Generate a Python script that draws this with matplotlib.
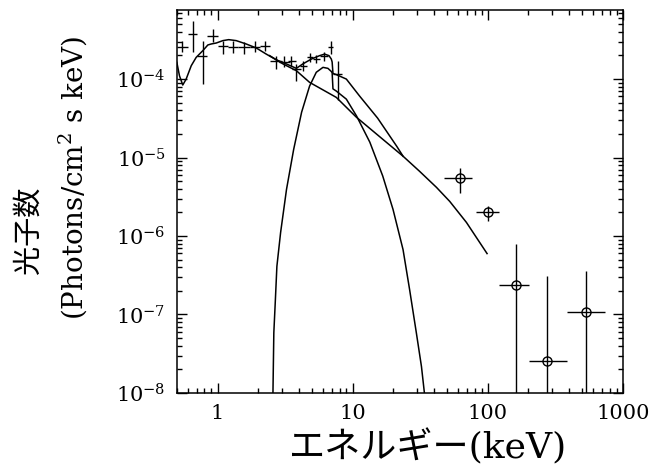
import numpy as np
import matplotlib
matplotlib.use('Agg')
import matplotlib.pyplot as plt
from matplotlib.ticker import LogLocator, NullFormatter

plt.rcParams['font.family'] = ['DejaVu Serif', 'Noto Sans CJK JP']
plt.rcParams['mathtext.fontset'] = 'dejavuserif'

# low energy data (crosses): energy, bin edges, flux and error bounds
cross_E = [0.548, 0.656, 0.778, 0.923, 1.095, 1.298, 1.557, 1.88, 2.23, 2.69,
           3.10, 3.51, 3.83, 4.28, 4.80, 5.38, 6.10, 6.87, 7.78]
cross_Elo = [0.505, 0.60, 0.71, 0.84, 1.0, 1.186, 1.406, 1.727, 2.047, 2.43,
             2.87, 3.30, 3.53, 4.05, 4.56, 5.10, 5.70, 6.53, 7.20]
cross_Ehi = [0.60, 0.71, 0.84, 1.0, 1.186, 1.406, 1.727, 2.047, 2.43, 2.98,
             3.41, 3.78, 4.12, 4.56, 5.10, 5.70, 6.53, 7.20, 8.30]
cross_F = [2.54e-4, 3.76e-4, 1.99e-4, 3.57e-4, 2.67e-4, 2.59e-4, 2.54e-4, 2.59e-4,
           2.67e-4, 1.71e-4, 1.66e-4, 1.71e-4, 1.34e-4, 1.48e-4, 1.89e-4, 1.80e-4,
           1.95e-4, 2.54e-4, 1.16e-4]
cross_Flo = [2.19e-4, 2.19e-4, 8.6e-5, 2.94e-4, 2.08e-4, 2.13e-4, 2.08e-4, 2.21e-4,
             2.28e-4, 1.34e-4, 1.42e-4, 1.47e-4, 9.5e-5, 1.27e-4, 1.65e-4, 1.58e-4,
             1.70e-4, 2.08e-4, 5.4e-5]
cross_Fhi = [3.09e-4, 5.56e-4, 3.09e-4, 4.35e-4, 3.09e-4, 3.09e-4, 2.97e-4, 3.06e-4,
             3.06e-4, 1.99e-4, 1.97e-4, 1.97e-4, 1.56e-4, 1.71e-4, 2.15e-4, 2.05e-4,
             2.21e-4, 3.09e-4, 1.70e-4]

# high energy data (circles)
circ_E = [62.1, 100.5, 161, 272, 529]
circ_Elo = [47.5, 81.5, 121, 202, 387]
circ_Ehi = [77, 121, 202, 387, 736]
circ_F = [5.55e-6, 2.01e-6, 2.4e-7, 2.59e-8, 1.07e-7]
circ_Flo = [3.56e-6, 1.55e-6, 1e-9, 1e-9, 1e-9]
circ_Fhi = [7.45e-6, 2.4e-6, 8.0e-7, 3.07e-7, 3.62e-7]

# model curves
tot_E = [0.50, 0.523, 0.553, 0.586, 0.639, 0.695, 0.778, 0.848, 0.898, 0.978,
         1.095, 1.21, 1.375, 1.63, 1.935, 2.295, 2.72, 3.23, 3.83, 4.28,
         4.95, 5.70, 6.20, 6.68, 6.95, 7.05, 7.15, 7.57, 8.98, 11.27,
         15.3, 21.2, 23.6]
tot_F = [1.63e-4, 1.10e-4, 8.4e-5, 1.0e-4, 1.48e-4, 1.89e-4, 2.30e-4, 2.72e-4, 2.80e-4, 2.88e-4,
         3.09e-4, 3.18e-4, 3.09e-4, 2.80e-4, 2.49e-4, 2.08e-4, 1.76e-4, 1.56e-4, 1.37e-4, 1.56e-4,
         1.80e-4, 1.99e-4, 2.08e-4, 1.99e-4, 1.80e-4, 1.65e-4, 1.18e-4, 1.14e-4, 1.0e-4, 6.06e-5,
         3.18e-5, 1.39e-5, 1.04e-5]

pl_E = [2.43, 3.05, 3.83, 4.80, 7.57, 10.65, 16.7, 23.6, 31.3, 41.7, 52.3, 69.5, 98.8]
pl_F = [1.99e-4, 1.56e-4, 1.28e-4, 9.08e-5, 5.84e-5, 3.27e-5, 1.71e-5, 1.04e-5,
        6.67e-6, 4.17e-6, 2.76e-6, 1.49e-6, 5.97e-7]

th_E = [2.57, 2.61, 2.68, 2.75, 2.93, 3.24, 3.66, 4.19, 4.80, 5.38, 6.03, 6.56, 6.95,
        7.05, 7.15, 7.57, 8.98, 10.7, 13.4, 16.7, 19.9, 23.6, 26.4, 29.6, 32.3, 34.1]
th_F = [9.4e-9, 5.85e-8, 1.54e-7, 4.11e-7, 1.11e-6, 3.93e-6, 1.27e-5, 3.78e-5, 8.14e-5,
        1.22e-4, 1.41e-4, 1.37e-4, 1.25e-4, 1.20e-4, 7.5e-5, 7.03e-5, 5.55e-5, 3.37e-5,
        1.57e-5, 5.81e-6, 2.18e-6, 6.71e-7, 2.07e-7, 5.85e-8, 2.17e-8, 9.4e-9]

x_ticks = [1, 10, 100, 1000]
x_labels = ['1', '10', '100', '1000']

fig = plt.figure(figsize=(6.55, 4.74), dpi=100)
ax = fig.add_axes([0.270, 0.171, 0.681, 0.808])

ax.plot(tot_E, tot_F, color='black', lw=1.1)
ax.plot(pl_E, pl_F, color='black', lw=1.1)
ax.plot(th_E, th_F, color='black', lw=1.1)

cE = np.array(cross_E); cF = np.array(cross_F)
ax.errorbar(cE, cF,
            xerr=[cE - np.array(cross_Elo), np.array(cross_Ehi) - cE],
            yerr=[cF - np.array(cross_Flo), np.array(cross_Fhi) - cF],
            fmt='none', ecolor='black', elinewidth=1.0, capsize=0)

hE = np.array(circ_E); hF = np.array(circ_F)
ax.errorbar(hE, hF,
            xerr=[hE - np.array(circ_Elo), np.array(circ_Ehi) - hE],
            yerr=[hF - np.array(circ_Flo), np.array(circ_Fhi) - hF],
            fmt='o', mfc='none', mec='black', ms=6.5, mew=1.0,
            ecolor='black', elinewidth=1.0, capsize=0)

ax.set_xscale('log')
ax.set_yscale('log')
ax.set_xlim(0.5, 1000)
ax.set_ylim(1e-8, 7.6e-4)

ax.set_xticks(x_ticks, labels=x_labels)
ax.xaxis.set_minor_locator(LogLocator(base=10, subs=np.arange(2, 10)))
ax.xaxis.set_minor_formatter(NullFormatter())
ax.yaxis.set_major_locator(LogLocator(base=10))
ax.yaxis.set_minor_locator(LogLocator(base=10, subs=np.arange(2, 10)))
ax.yaxis.set_minor_formatter(NullFormatter())

ax.tick_params(which='both', direction='in', top=True, right=True, width=1.0)
ax.tick_params(which='major', length=7, labelsize=15, pad=8)
ax.tick_params(which='minor', length=3.5)
for s in ax.spines.values():
    s.set_linewidth(1.1)

fig.text(0.653, 0.057, 'エネルギー(keV)', fontsize=26, ha='center', va='center')
fig.text(0.043, 0.515, '光子数', fontsize=21, rotation=90, ha='center', va='center')
fig.text(0.110, 0.624, '(Photons/cm$^2$ s keV)', fontsize=20, rotation=90,
         ha='center', va='center')

fig.savefig('out.png', dpi=100)
